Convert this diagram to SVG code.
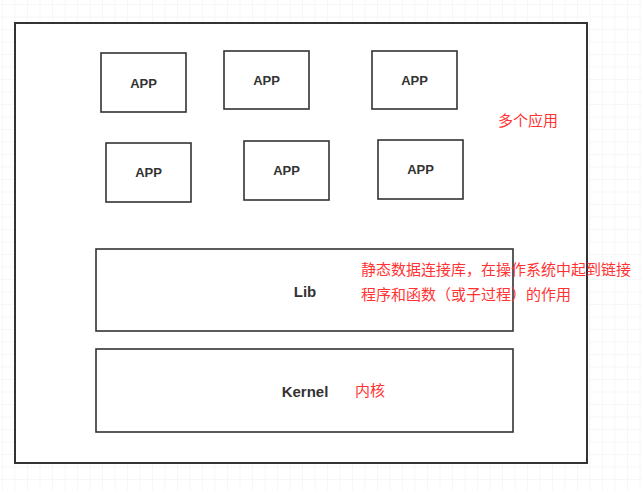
<svg xmlns="http://www.w3.org/2000/svg" width="642" height="491" viewBox="0 0 642 491">
<defs>
<pattern id="grid" width="12.5" height="12.5" patternUnits="userSpaceOnUse" x="3" y="5">
<path d="M12.5 0 V12.5 M0 12.5 H12.5" fill="none" stroke="#efefef" stroke-width="1"/>
</pattern>
</defs>
<style>
.box{fill:#fff;stroke:#333;stroke-width:1.6}
.outer{fill:#fff;stroke:#333;stroke-width:2}
.lbl{font-family:"Liberation Sans",Arial,sans-serif;font-weight:bold;font-size:13px;fill:#333;text-anchor:middle;dominant-baseline:central}
.big{font-size:15px}
.note{font-family:"Noto Sans CJK SC","Liberation Sans",sans-serif;font-size:15px;fill:#ff3333}
</style>
<rect width="642" height="491" fill="#fff"/>
<rect width="642" height="491" fill="url(#grid)"/>
<g id="container"><rect class="outer" x="15" y="23" width="572" height="440"/></g>
<g id="app1"><rect class="box" x="101" y="53" width="85" height="59"/><text class="lbl" x="143.5" y="83">APP</text></g>
<g id="app2"><rect class="box" x="224" y="51" width="85" height="58"/><text class="lbl" x="266.5" y="80">APP</text></g>
<g id="app3"><rect class="box" x="372" y="51" width="85" height="58"/><text class="lbl" x="414.5" y="80">APP</text></g>
<g id="app4"><rect class="box" x="106" y="143" width="85" height="59"/><text class="lbl" x="148.5" y="172.5">APP</text></g>
<g id="app5"><rect class="box" x="244" y="141" width="85" height="59"/><text class="lbl" x="286.5" y="170.5">APP</text></g>
<g id="app6"><rect class="box" x="378" y="140" width="85" height="59"/><text class="lbl" x="420.5" y="169.5">APP</text></g>
<g id="lib"><rect class="box" x="96" y="249" width="417" height="82"/><text class="lbl big" x="305" y="291">Lib</text></g>
<g id="kernel"><rect class="box" x="96" y="349" width="417" height="83"/><text class="lbl big" x="305" y="391">Kernel</text></g>
<g id="notes">
<text class="note" x="498" y="126">多个应用</text>
<text class="note" x="361" y="275">静态数据连接库，在操作系统中起到链接</text>
<text class="note" x="361" y="300">程序和函数（或子过程）的作用</text>
<text class="note" x="355" y="396">内核</text>
</g>
<g id="connectors"/>
</svg>
